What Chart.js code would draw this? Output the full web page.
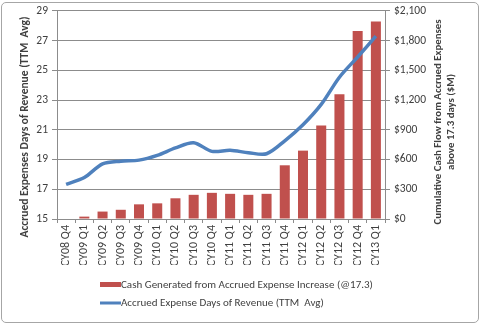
<!DOCTYPE html>
<html>
<head>
<meta charset="utf-8">
<script src="https://cdn.jsdelivr.net/npm/chart.js@4.4.0/dist/chart.umd.min.js"></script>
<style>
  html, body { margin: 0; padding: 0; background: #fff; }
  #wrap { position: relative; width: 480px; height: 324px; }
  #frame { position: absolute; left: 1px; top: 2px; width: 476px; height: 319px; border: 1px solid #a6a6a6; border-radius: 5px; pointer-events: none; }
  canvas { position: absolute; left: 0; top: 0; }
</style>
</head>
<body>
<div id="wrap">
  <canvas id="chart" width="480" height="324"></canvas>
  <div id="frame"></div>
</div>
<script>
const quarters = ["CY08 Q4", "CY09 Q1", "CY09 Q2", "CY09 Q3", "CY09 Q4", "CY10 Q1", "CY10 Q2", "CY10 Q3", "CY10 Q4",
  "CY11 Q1", "CY11 Q2", "CY11 Q3", "CY11 Q4", "CY12 Q1", "CY12 Q2", "CY12 Q3", "CY12 Q4", "CY13 Q1"];
const cashGenerated = [0, 24, 75, 93, 148, 158, 209, 244, 264, 254, 244, 254, 542, 690, 944, 1260, 1898, 1994];
const accruedDays = [17.33, 17.79, 18.71, 18.89, 18.96, 19.28, 19.78, 20.13, 19.55, 19.62, 19.46, 19.39, 20.26, 21.34, 22.71, 24.54, 25.9, 27.3];

const barLabel = "Cash Generated from Accrued Expense Increase (@17.3)";
const lineLabel = "Accrued Expense Days of Revenue (TTM  Avg)";
const leftTitle = "Accrued Expenses Days of Revenue (TTM  Avg)";
const rightTitle = ["Cumulative Cash Flow from Accrued Expenses", "above 17.3 days ($M)"];

const FONT = "Calibri, Carlito, 'Liberation Sans', Arial, sans-serif";
const TXT = "#404040";
const RED = "#C0504D";
const BLUE = "#4F81BD";
const GRID = "#8c8c8c";

const extras = {
  id: "extras",
  afterDraw(chart) {
    const ctx = chart.ctx;
    const area = chart.chartArea;
    const midY = (area.top + area.bottom) / 2;
    ctx.save();
    ctx.fillStyle = TXT;
    ctx.textAlign = "center";
    ctx.textBaseline = "middle";
    // left title
    ctx.font = "bold 11.5px " + FONT;
    ctx.save();
    ctx.translate(25, midY + 12);
    ctx.rotate(-Math.PI / 2);
    ctx.fillText(leftTitle, 0, 0);
    ctx.restore();
    // right title, two lines
    ctx.font = "bold 10.8px " + FONT;
    ctx.save();
    ctx.translate(438, midY + 7);
    ctx.rotate(-Math.PI / 2);
    ctx.fillText(rightTitle[0], 0, 0);
    ctx.fillText(rightTitle[1], 0, 13);
    ctx.restore();
    // legend
    ctx.textAlign = "left";
    ctx.font = "11px " + FONT;
    ctx.fillStyle = RED;
    ctx.fillRect(100, 282, 21, 5);
    ctx.fillStyle = TXT;
    ctx.fillText(barLabel, 121, 285);
    ctx.strokeStyle = BLUE;
    ctx.lineWidth = 3;
    ctx.beginPath();
    ctx.moveTo(100, 303);
    ctx.lineTo(121, 303);
    ctx.stroke();
    ctx.fillText(lineLabel, 121, 303);
    ctx.restore();
  }
};

new Chart(document.getElementById("chart"), {
  data: {
    labels: quarters,
    datasets: [
      {
        type: "line",
        label: lineLabel,
        data: accruedDays,
        yAxisID: "yDays",
        borderColor: BLUE,
        borderWidth: 3.5,
        pointRadius: 0,
        tension: 0.3,
        order: 0
      },
      {
        type: "bar",
        label: barLabel,
        data: cashGenerated,
        yAxisID: "yCash",
        backgroundColor: RED,
        barPercentage: 0.55,
        categoryPercentage: 1,
        order: 1
      }
    ]
  },
  plugins: [extras],
  options: {
    responsive: false,
    animation: false,
    layout: { padding: { top: 8, bottom: 59, left: 4, right: 4 } },
    plugins: { legend: { display: false }, tooltip: { enabled: false } },
    scales: {
      x: {
        offset: true,
        grid: { display: true, drawOnChartArea: false, offset: true, color: GRID, tickLength: 4 },
        border: { color: GRID },
        ticks: { color: TXT, font: { family: FONT, size: 12 }, minRotation: 90, maxRotation: 90, autoSkip: false, padding: 2 },
        afterFit: s => { s.height = 46; }
      },
      yDays: {
        position: "left",
        min: 15, max: 29,
        ticks: { stepSize: 2, color: TXT, font: { family: FONT, size: 11.5 }, padding: 4 },
        grid: { color: GRID, tickLength: 5 },
        border: { color: GRID },
        afterFit: s => { s.width = 53; }
      },
      yCash: {
        position: "right",
        min: 0, max: 2100,
        ticks: {
          stepSize: 300, color: TXT, font: { family: FONT, size: 11.5 }, padding: 4,
          callback: v => "$" + v.toLocaleString("en-US")
        },
        grid: { drawOnChartArea: false, color: GRID, tickLength: 5 },
        border: { color: GRID },
        afterFit: s => { s.width = 91; }
      }
    }
  }
});
</script>
</body>
</html>
